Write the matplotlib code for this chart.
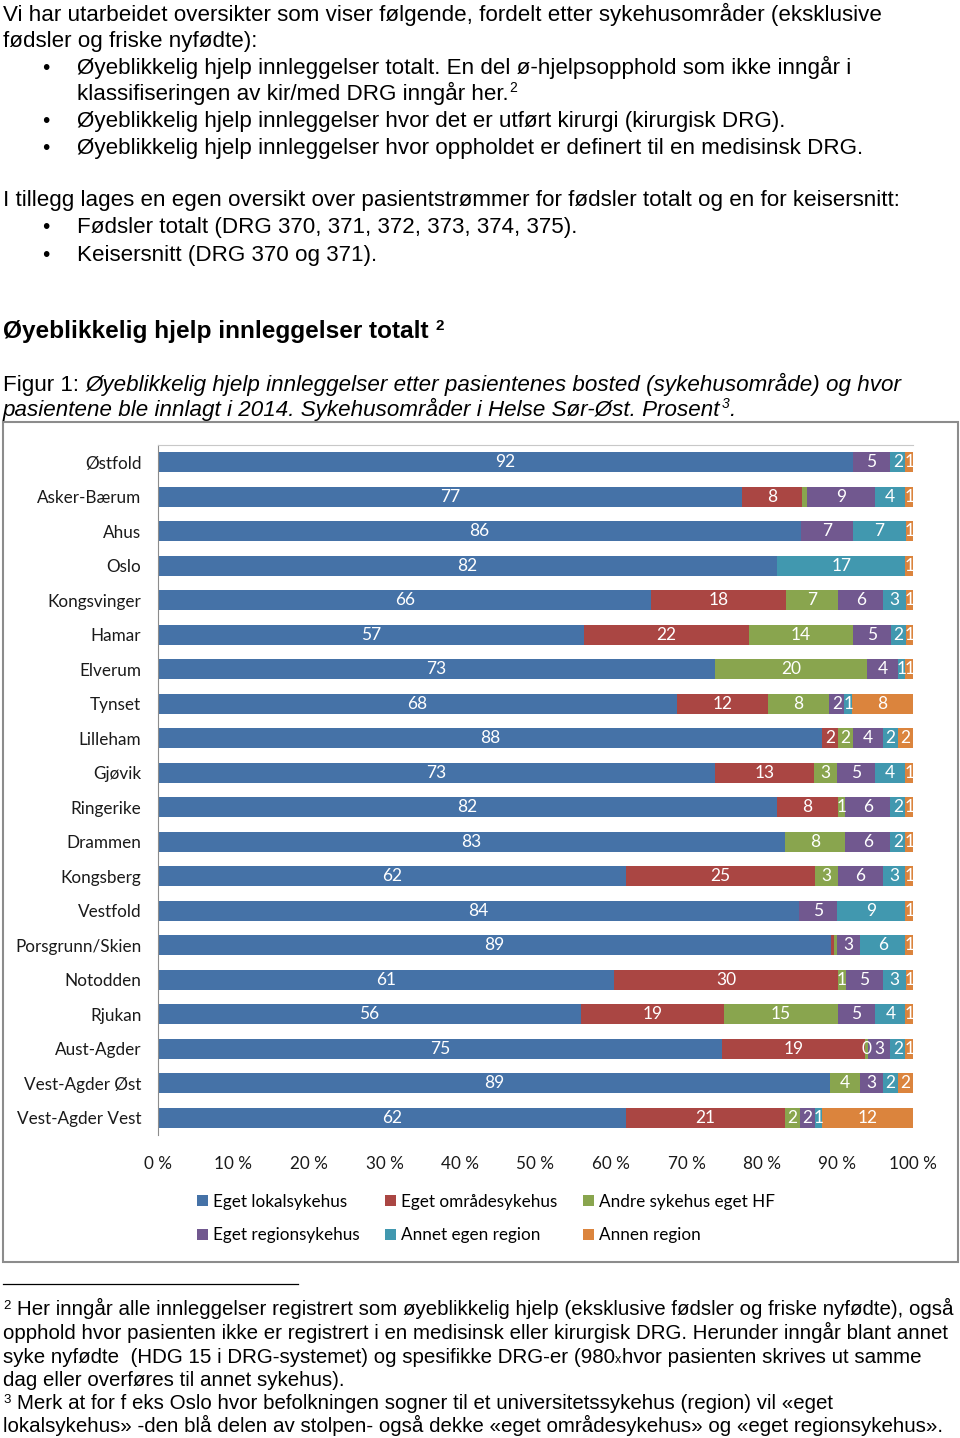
import matplotlib
matplotlib.use('Agg')
import matplotlib.pyplot as plt
from matplotlib.patches import Rectangle, Patch
from matplotlib.lines import Line2D
import numpy as np

# --- data (percent) ---
AREAS = ['Østfold', 'Asker-Bærum', 'Ahus', 'Oslo', 'Kongsvinger', 'Hamar',
         'Elverum', 'Tynset', 'Lilleham', 'Gjøvik', 'Ringerike', 'Drammen',
         'Kongsberg', 'Vestfold', 'Porsgrunn/Skien', 'Notodden', 'Rjukan',
         'Aust-Agder', 'Vest-Agder Øst', 'Vest-Agder Vest']
SERIES = ['Eget lokalsykehus', 'Eget områdesykehus', 'Andre sykehus eget HF',
          'Eget regionsykehus', 'Annet egen region', 'Annen region']

eget_lokal   = [92, 77, 86, 82, 66, 57, 73, 68, 88, 73, 82, 83, 62, 84, 89, 61, 56, 75, 89, 62]
eget_omrade  = [0, 8, 0, 0, 18, 22, 0, 12, 2, 13, 8, 0, 25, 0, 0.3, 30, 19, 19, 0, 21]
andre_hf     = [0, 0.6, 0, 0, 7, 14, 20, 8, 2, 3, 1, 8, 3, 0, 0.5, 1, 15, 0.4, 4, 2]
eget_region  = [5, 9, 7, 0, 6, 5, 4, 2, 4, 5, 6, 6, 6, 5, 3, 5, 5, 3, 3, 2]
annet_region = [2, 4, 7, 17, 3, 2, 1, 1, 2, 4, 2, 2, 3, 9, 6, 3, 4, 2, 2, 1]
annen_region = [1, 1, 1, 1, 1, 1, 1, 8, 2, 1, 1, 1, 1, 1, 1, 1, 1, 1, 2, 12]

# slivers that carry no data label in the original
NO_LABEL = {('Asker-Bærum', 2), ('Porsgrunn/Skien', 1), ('Porsgrunn/Skien', 2)}

XTICKS = [0, 10, 20, 30, 40, 50, 60, 70, 80, 90, 100]

COLORS = ['#4572A7', '#AA4643', '#89A54E', '#71588F', '#4198AF', '#DB843D']

W, H = 960, 1438
BODY = 'Liberation Sans'
CHART = 'Lato'
BS = 16.1   # body text size
FN = 14.8   # footnote size


def fx(x):
    return x / W


def fy(y):
    return 1 - y / H


fig = plt.figure(figsize=(W / 100, H / 100), dpi=100)


def txt(x, y, s, size=BS, **kw):
    kw.setdefault('family', BODY)
    return fig.text(fx(x), fy(y), s, fontsize=size, va='baseline', ha='left', **kw)


# --- body text ---
txt(3, 21, 'Vi har utarbeidet oversikter som viser følgende, fordelt etter sykehusområder (eksklusive')
txt(3, 47, 'fødsler og friske nyfødte):')
bullets = [
    (74, 'Øyeblikkelig hjelp innleggelser totalt. En del ø-hjelpsopphold som ikke inngår i', True),
    (100, 'klassifiseringen av kir/med DRG inngår her.', False),
    (127, 'Øyeblikkelig hjelp innleggelser hvor det er utført kirurgi (kirurgisk DRG).', True),
    (154, 'Øyeblikkelig hjelp innleggelser hvor oppholdet er definert til en medisinsk DRG.', True),
]
renderer = fig.canvas.get_renderer()
for y, s, dot in bullets:
    if dot:
        txt(42, y, '•', 15)
    t = txt(77, y, s)
    if not dot:
        bb = t.get_window_extent(renderer)
        txt(bb.x1 + 1, y - 8, '2', 10)
txt(3, 206, 'I tillegg lages en egen oversikt over pasientstrømmer for fødsler totalt og en for keisersnitt:')
for y, s in [(233, 'Fødsler totalt (DRG 370, 371, 372, 373, 374, 375).'),
             (261, 'Keisersnitt (DRG 370 og 371).')]:
    txt(42, y, '•', 15)
    txt(77, y, s)

t = txt(3, 338, 'Øyeblikkelig hjelp innleggelser totalt', 17.6, weight='bold')
bb = t.get_window_extent(renderer)
txt(bb.x1 + 7, 330, '2', 11, weight='bold')

# caption: regular prefix + italic rest
t = txt(3, 391, 'Figur 1: ')
bb = t.get_window_extent(renderer)
txt(bb.x1, 391, 'Øyeblikkelig hjelp innleggelser etter pasientenes bosted (sykehusområde) og hvor',
    style='italic')
t = txt(3, 416, 'pasientene ble innlagt i 2014. Sykehusområder i Helse Sør-Øst. Prosent', style='italic')
bb = t.get_window_extent(renderer)
t = txt(bb.x1 + 1, 408, '3', 10, style='italic')
bb = t.get_window_extent(renderer)
txt(bb.x1, 416, '.', style='italic')

# --- chart frame ---
fig.add_artist(Rectangle((fx(3), fy(1262)), (958 - 3) / W, (1262 - 422) / H,
                         transform=fig.transFigure, fill=False, edgecolor='#8c8c8c', lw=1.5))

ax = fig.add_axes([fx(158), fy(1135), (913 - 158) / W, (1135 - 445) / H])
data = np.array([eget_lokal, eget_omrade, andre_hf, eget_region, annet_region, annen_region], dtype=float)
shares = data / data.sum(axis=0) * 100
ypos = np.arange(len(AREAS))
left = np.zeros(len(AREAS))
for k, (name, col) in enumerate(zip(SERIES, COLORS)):
    vals = shares[k]
    ax.barh(ypos, vals, left=left, height=0.58, color=col, label=name)
    for i, v in enumerate(vals):
        if data[k, i] <= 0 or (AREAS[i], k) in NO_LABEL:
            continue
        ax.text(left[i] + v / 2, i, f'{data[k, i]:.0f}', ha='center', va='center',
                color='white', fontsize=12.5, family=CHART)
    left += vals

ax.set_xlim(0, 100)
ax.set_ylim(len(AREAS) - 0.5, -0.5)
ax.set_yticks(ypos)
ax.set_yticklabels(AREAS, family=CHART, fontsize=12.3)
ax.set_xticks(XTICKS)
ax.set_xticklabels([f'{v} %' for v in XTICKS], family=CHART, fontsize=12.3)
ax.tick_params(axis='both', length=0, colors='#1a1a1a')
ax.tick_params(axis='y', pad=12)
ax.tick_params(axis='x', pad=15)
for s in ['right', 'bottom']:
    ax.spines[s].set_visible(False)
ax.spines['left'].set_color('#8c8c8c')
ax.spines['top'].set_color('#c8c8c8')

handles = [Patch(facecolor=c, edgecolor='none') for c in COLORS]
order = [0, 3, 1, 4, 2, 5]
fig.legend([handles[i] for i in order], [SERIES[i] for i in order], ncol=3,
           loc='upper left', bbox_to_anchor=(fx(188), fy(1185)), frameon=False,
           prop={'family': CHART, 'size': 12.3}, handlelength=0.65, handleheight=0.65,
           handletextpad=0.3, columnspacing=1.5, labelspacing=1.05, borderpad=0)

# --- footnotes ---
fig.add_artist(Line2D([fx(3), fx(298)], [fy(1284), fy(1284)], transform=fig.transFigure,
                      color='black', lw=0.9))
txt(3, 1309, '2', 9.5)
txt(17, 1315, 'Her inngår alle innleggelser registrert som øyeblikkelig hjelp (eksklusive fødsler og friske nyfødte), også', FN)
txt(3, 1339, 'opphold hvor pasienten ikke er registrert i en medisinsk eller kirurgisk DRG. Herunder inngår blant annet', FN)
t = txt(3, 1363, 'syke nyfødte  (HDG 15 i DRG-systemet) og spesifikke DRG-er (980', FN)
bb = t.get_window_extent(renderer)
t = txt(bb.x1, 1363, 'x', 9)
bb = t.get_window_extent(renderer)
txt(bb.x1 + 1, 1363, 'hvor pasienten skrives ut samme', FN)
txt(3, 1386, 'dag eller overføres til annet sykehus).', FN)
txt(3, 1403, '3', 9.5)
txt(17, 1409, 'Merk at for f eks Oslo hvor befolkningen sogner til et universitetssykehus (region) vil «eget', FN)
txt(3, 1432, 'lokalsykehus» -den blå delen av stolpen- også dekke «eget områdesykehus» og «eget regionsykehus».', FN)

fig.savefig('out.png', dpi=100)
